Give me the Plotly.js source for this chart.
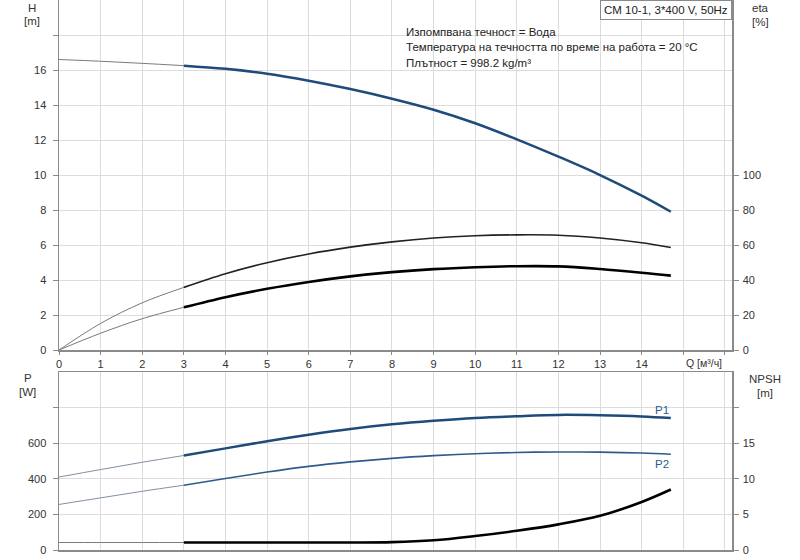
<!DOCTYPE html>
<html>
<head>
<meta charset="utf-8">
<script src="https://cdn.plot.ly/plotly-3.0.1.min.js"></script>
<style>html,body{margin:0;padding:0;background:#fff;}#chart{width:800px;height:560px;}</style>
</head>
<body>
<div id="chart"></div>
<script>
// Flow values Q [m³/h]
var qThin = [0, 1, 2, 3];
var qMain = [3, 4, 5, 6, 7, 8, 9, 10, 11, 12, 13, 14, 14.7];

// Head H [m]
var hThin = [16.6, 16.5, 16.38, 16.25];
var hMain = [16.25, 16.07, 15.79, 15.39, 14.91, 14.36, 13.73, 12.96, 12.04, 11.05, 10.0, 8.82, 7.9];

// Efficiency eta [%] (upper curve and lower curve)
var etaAThin = [0, 15.2, 27.0, 35.8];
var etaAMain = [35.8, 43.6, 49.9, 54.9, 58.8, 61.8, 64.0, 65.3, 65.8, 65.6, 64.0, 61.3, 58.6];
var etaBThin = [0, 9.6, 17.9, 24.4];
var etaBMain = [24.4, 30.2, 35.0, 38.9, 42.1, 44.5, 46.2, 47.3, 47.9, 47.8, 46.3, 44.2, 42.5];

// Power P [W]
var p1Thin = [410, 452, 493, 531];
var p1Main = [531, 571, 611, 648, 680, 706, 726, 742, 752, 759, 757, 750, 741];
var p2Thin = [256, 293, 330, 364];
var p2Main = [364, 402, 438, 470, 495, 515, 530, 541, 548, 551, 550, 545, 538];

// NPSH [m]
var npshThin = [1.05, 1.05, 1.05, 1.05];
var npshMain = [1.05, 1.05, 1.05, 1.05, 1.05, 1.1, 1.36, 1.96, 2.7, 3.6, 4.8, 6.75, 8.5];

// Tick labels
var qTicks = [0,1,2,3,4,5,6,7,8,9,10,11,12,13,14,15,16];
var qTickText = ['0','1','2','3','4','5','6','7','8','9','10','11','12','13','14','',''];
var hTicks = [0,2,4,6,8,10,12,14,16,18];
var hTickText = ['0','2','4','6','8','10','12','14','16',''];
var etaTicks = [0,20,40,60,80,100];
var pTicks = [0,200,400,600,800];
var pTickText = ['0','200','400','600',''];
var npshTicks = [0,5,10,15,20];
var npshTickText = ['0','5','10','15',''];

var infoLines = ['Изпомпвана течност = Вода',
                 'Температура на течността по време на работа = 20 °C',
                 'Плътност = 998.2 kg/m³'];

var BLUE = '#1f4b7a';
var BLUE2 = '#2d5c8c';
var THIN = '#7a7a7a';
var FONT = 'Liberation Sans, Arial, sans-serif';

function tr(x, y, xa, ya, color, width) {
  return {x: x, y: y, xaxis: xa, yaxis: ya, type: 'scatter', mode: 'lines',
          line: {color: color, width: width, shape: 'spline', smoothing: 1},
          hoverinfo: 'skip', showlegend: false};
}

var data = [
  tr(qThin, hThin, 'x', 'y', THIN, 1),
  tr(qMain, hMain, 'x', 'y', BLUE, 2.5),
  tr(qThin, etaAThin, 'x', 'y2', THIN, 1),
  tr(qMain, etaAMain, 'x', 'y2', '#222', 1.6),
  tr(qThin, etaBThin, 'x', 'y2', THIN, 1),
  tr(qMain, etaBMain, 'x', 'y2', '#000', 2.6),
  tr(qThin, p1Thin, 'x2', 'y3', '#8090a0', 1),
  tr(qMain, p1Main, 'x2', 'y3', BLUE, 2.5),
  tr(qThin, p2Thin, 'x2', 'y3', '#8090a0', 1),
  tr(qMain, p2Main, 'x2', 'y3', BLUE2, 1.6),
  tr(qThin, npshThin, 'x2', 'y4', THIN, 1),
  tr(qMain, npshMain, 'x2', 'y4', '#000', 2.6)
];

var AX = '#8a8a8a', GRID = '#dcdcdc', TXT = '#333';
var tickFont = {family: FONT, size: 11, color: TXT};
var qMax = 16.17;

var layout = {
  width: 800, height: 560,
  margin: {l: 59, r: 68, t: 0, b: 10},
  paper_bgcolor: '#fff', plot_bgcolor: '#fff',
  font: {family: FONT, size: 11, color: TXT},
  showlegend: false,
  xaxis: {domain: [0, 1], range: [0, qMax], anchor: 'y', tickmode: 'array', tickvals: qTicks, ticktext: qTickText,
          showgrid: true, gridcolor: GRID, gridwidth: 1, showline: true, linecolor: AX, linewidth: 1.5, mirror: true,
          ticks: 'outside', ticklen: 3, tickcolor: AX, tickfont: tickFont, zeroline: false, fixedrange: true},
  yaxis: {domain: [0.3636, 1], range: [0, 20], anchor: 'x', tickmode: 'array', tickvals: hTicks, ticktext: hTickText,
          showgrid: true, gridcolor: GRID, showline: true, linecolor: AX, linewidth: 1.5,
          ticks: 'outside', ticklen: 5, tickcolor: AX, tickfont: tickFont, zeroline: false, ticklabelstandoff: 4},
  yaxis2: {overlaying: 'y', side: 'right', anchor: 'x', range: [0, 200], tickmode: 'array', tickvals: etaTicks,
           showgrid: false, showline: true, linecolor: AX, linewidth: 1.5, ticks: 'outside', ticklen: 5, tickcolor: AX,
           tickfont: tickFont, zeroline: false, ticklabelstandoff: 2},
  xaxis2: {domain: [0, 1], range: [0, qMax], anchor: 'y3', tickmode: 'array', tickvals: qTicks, showticklabels: false,
           showgrid: true, gridcolor: GRID, showline: true, linecolor: AX, linewidth: 1.5, mirror: true,
           ticks: '', zeroline: false},
  yaxis3: {domain: [0, 0.3236], range: [0, 1000], anchor: 'x2', tickmode: 'array', tickvals: pTicks, ticktext: pTickText,
           showgrid: true, gridcolor: GRID, showline: true, linecolor: AX, linewidth: 1.5,
           ticks: 'outside', ticklen: 5, tickcolor: AX, tickfont: tickFont, zeroline: false, ticklabelstandoff: 4},
  yaxis4: {overlaying: 'y3', side: 'right', anchor: 'x2', range: [0, 25], tickmode: 'array', tickvals: npshTicks, ticktext: npshTickText,
           showgrid: false, showline: true, linecolor: AX, linewidth: 1.5, ticks: 'outside', ticklen: 5, tickcolor: AX,
           tickfont: tickFont, zeroline: false, ticklabelstandoff: 2},
  annotations: []
};

function px(x) { return (x - 59) / 673; }
function py(y) { return (550 - y) / 550; }
function ann(text, x, y, opts) {
  var a = {text: text, xref: 'paper', yref: 'paper', x: px(x), y: py(y), showarrow: false,
           xanchor: 'center', yanchor: 'middle', font: {family: FONT, size: 11.5, color: TXT}};
  for (var k in opts) a[k] = opts[k];
  layout.annotations.push(a);
}

ann('H', 32, 8, {});
ann('[m]', 32, 21, {});
ann('eta', 760, 8, {});
ann('[%]', 760, 22, {});
ann('P', 28, 378, {});
ann('[W]', 28, 392, {});
ann('NPSH', 765, 379, {});
ann('[m]', 765, 393, {});
ann('Q [м³/ч]', 684, 363, {xanchor: 'left', font: {family: FONT, size: 10.5, color: TXT}});
ann('P1', 662, 410, {font: {family: FONT, size: 11.5, color: BLUE2}});
ann('P2', 662, 464, {font: {family: FONT, size: 11.5, color: BLUE2}});
for (var i = 0; i < infoLines.length; i++) {
  ann(infoLines[i], 404, 32 + i * 15.5, {xanchor: 'left', font: {family: FONT, size: 11.5, color: '#222'}});
}
layout.annotations.push({text: 'CM 10-1, 3*400 V, 50Hz', xref: 'paper', yref: 'paper', x: 1, y: 1,
  xanchor: 'right', yanchor: 'top', showarrow: false, bgcolor: '#fff', bordercolor: AX, borderwidth: 1,
  borderpad: 3, font: {family: FONT, size: 11.5, color: '#222'}});

Plotly.newPlot('chart', data, layout, {displayModeBar: false, staticPlot: true});
</script>
</body>
</html>
